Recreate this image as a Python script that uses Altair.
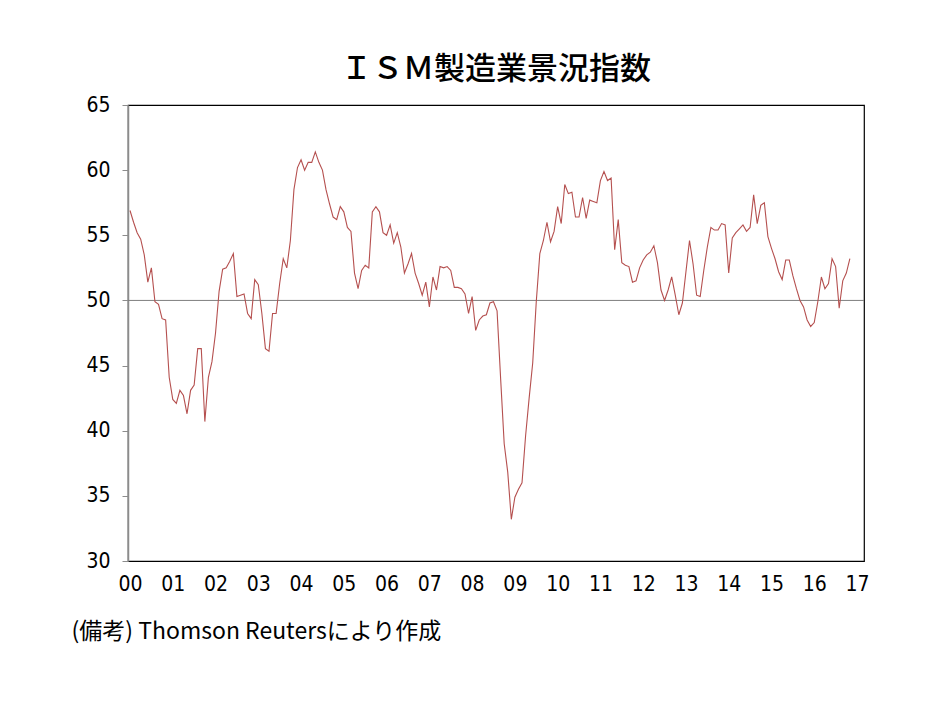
import altair as alt
import pandas as pd

# ISM manufacturing index, monthly Jan 2000 - Nov 2016
v2000 = [56.9, 56.0, 55.2, 54.7, 53.5, 51.4, 52.5, 49.9, 49.7, 48.6, 48.5, 44.1]
v2001 = [42.4, 42.1, 43.1, 42.7, 41.3, 43.1, 43.5, 46.3, 46.3, 40.7, 44.1, 45.3]
v2002 = [47.5, 50.7, 52.4, 52.5, 53.0, 53.6, 50.3, 50.4, 50.5, 49.0, 48.6, 51.6]
v2003 = [51.2, 49.0, 46.3, 46.1, 49.0, 49.0, 51.3, 53.2, 52.5, 54.6, 58.5, 60.2]
v2004 = [60.8, 60.0, 60.6, 60.6, 61.4, 60.6, 60.0, 58.5, 57.4, 56.4, 56.2, 57.2]
v2005 = [56.8, 55.6, 55.3, 52.1, 50.9, 52.3, 52.7, 52.5, 56.8, 57.2, 56.8, 55.2]
v2006 = [55.0, 55.8, 54.4, 55.2, 54.1, 52.1, 52.8, 53.6, 52.1, 51.3, 50.4, 51.4]
v2007 = [49.5, 51.8, 50.8, 52.6, 52.5, 52.6, 52.3, 51.0, 51.0, 50.9, 50.5, 49.0]
v2008 = [50.3, 47.7, 48.5, 48.8, 48.9, 49.8, 49.9, 49.2, 44.0, 39.0, 36.8, 33.2]
v2009 = [34.9, 35.5, 36.0, 39.6, 42.5, 45.2, 49.9, 53.6, 54.6, 56.0, 54.5, 55.3]
v2010 = [57.2, 55.9, 58.9, 58.2, 58.3, 56.4, 56.4, 57.9, 56.3, 57.7, 57.6, 57.5]
v2011 = [59.2, 59.9, 59.2, 59.4, 53.9, 56.2, 52.9, 52.7, 52.6, 51.4, 51.5, 52.5]
v2012 = [53.1, 53.5, 53.7, 54.2, 52.9, 50.8, 50.0, 50.8, 51.8, 50.4, 48.9, 49.8]
v2013 = [52.2, 54.6, 52.8, 50.4, 50.3, 52.3, 54.1, 55.6, 55.4, 55.4, 55.9, 55.8]
v2014 = [52.1, 54.8, 55.2, 55.5, 55.8, 55.3, 55.6, 58.1, 55.9, 57.3, 57.5, 54.9]
v2015 = [54.0, 53.2, 52.2, 51.6, 53.1, 53.1, 51.9, 50.9, 50.0, 49.5, 48.5, 48.0]
v2016 = [48.3, 49.9, 51.8, 50.9, 51.3, 53.2, 52.6, 49.4, 51.5, 52.1, 53.2]

years = list(range(2000, 2017))
series = [v2000, v2001, v2002, v2003, v2004, v2005, v2006, v2007, v2008,
          v2009, v2010, v2011, v2012, v2013, v2014, v2015, v2016]

year_ticks = list(range(2000, 2018))
y_ticks = [30, 35, 40, 45, 50, 55, 60, 65]

title_text = "ＩＳＭ製造業景況指数"
note_text = "(備考) Thomson Reutersにより作成"
ref_level = [50]

rows = []
for yr, vals in zip(years, series):
    for m, v in enumerate(vals):
        rows.append({"t": yr + m / 12.0, "v": v})
df = pd.DataFrame(rows)

label_font = "Liberation Sans Narrow, DejaVu Sans Condensed, Liberation Sans, DejaVu Sans, sans-serif"
cjk_font = "Noto Sans CJK JP"

x_enc = alt.X(
    "t:Q",
    scale=alt.Scale(domain=[1999.9532, 2017.1636], nice=False, zero=False),
    axis=alt.Axis(
        values=year_ticks,
        labelExpr="format(datum.value - 2000, '02d')",
        ticks=False,
        domain=False,
        grid=False,
        labelFont=label_font,
        labelFontSize=21,
        labelColor="black",
        labelPadding=12,
        labelFlush=False,
        labelOverlap=False,
        title=note_text,
        titleFont=cjk_font,
        titleFontSize=23,
        titleFontWeight="normal",
        titleColor="black",
        titleAnchor="start",
        titleAlign="left",
        titleBaseline="middle",
        titleX=-57,
        titleY=70,
    ),
)

y_enc = alt.Y(
    "v:Q",
    scale=alt.Scale(domain=[30, 65], nice=False, zero=False),
    axis=alt.Axis(
        values=y_ticks,
        grid=False,
        tickSize=6,
        tickColor="#8c8c8c",
        domainColor="#8c8c8c",
        domainWidth=1.5,
        labelFont=label_font,
        labelFontSize=21,
        labelColor="black",
        labelPadding=12,
        title=None,
    ),
)

line = alt.Chart(df).mark_line(color="#b5504f", strokeWidth=1.1).encode(x=x_enc, y=y_enc)

rule = alt.Chart(pd.DataFrame({"y": ref_level})).mark_rule(
    color="#7f7f7f", strokeWidth=1
).encode(y=alt.Y("y:Q", title=None))

chart = (
    alt.layer(rule, line)
    .properties(
        width=736,
        height=456,
        background="white",
        title=alt.Title(
            title_text,
            font=cjk_font,
            fontSize=31,
            fontWeight=500,
            color="black",
            anchor="middle",
            frame="group",
            baseline="bottom",
            offset=12,
            dy=35,
        ),
        autosize=alt.AutoSizeParams(type="none"),
        padding={"left": 128, "top": 105, "right": 70, "bottom": 140},
    )
    .configure_view(stroke="black", strokeWidth=1.2)
)

chart.save("out.html", embed_options={"renderer": "svg", "actions": False})
